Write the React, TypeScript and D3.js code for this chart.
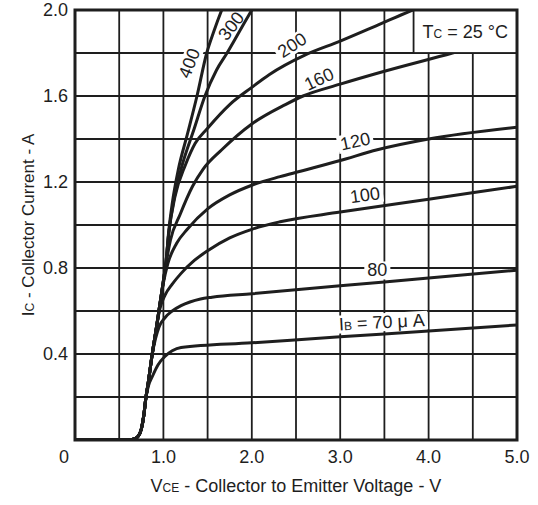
import { useEffect, useRef } from "react"
import * as d3 from "d3"

// axis ticks and grid (V, A)
const vTicks = [0, 1, 2, 3, 4, 5]
const iTicks = [0.4, 0.8, 1.2, 1.6, 2.0]
const vGrid = [0.5, 1, 1.5, 2, 2.5, 3, 3.5, 4, 4.5]
const iGrid = [0.2, 0.4, 0.6, 0.8, 1.0, 1.2, 1.4, 1.6, 1.8]

// Ic vs Vce, one array per base current
const ib70: [number, number][] = [[0, 0], [0.6, 0], [0.66, 0.004], [0.71, 0.015], [0.75, 0.05], [0.78, 0.12], [0.8, 0.19], [0.83, 0.25], [0.88, 0.3], [0.94, 0.35], [1.02, 0.39], [1.1, 0.415], [1.2, 0.43], [2, 0.452], [3, 0.48], [4, 0.507], [5, 0.535]]
const ib80: [number, number][] = [[0, 0], [0.6, 0], [0.66, 0.004], [0.71, 0.015], [0.75, 0.05], [0.78, 0.12], [0.8, 0.19], [0.83, 0.27], [0.87, 0.39], [0.91, 0.47], [0.95, 0.525], [1.02, 0.57], [1.1, 0.6], [1.2, 0.625], [1.3, 0.642], [1.42, 0.656], [1.55, 0.664], [2, 0.68], [3, 0.717], [4, 0.753], [5, 0.79]]
const ib100: [number, number][] = [[0, 0], [0.6, 0], [0.66, 0.004], [0.71, 0.015], [0.75, 0.05], [0.78, 0.12], [0.8, 0.19], [0.83, 0.27], [0.87, 0.39], [0.92, 0.52], [0.96, 0.61], [1.02, 0.675], [1.1, 0.725], [1.2, 0.775], [1.35, 0.835], [1.5, 0.88], [1.75, 0.94], [2, 0.98], [2.32, 1.015], [3, 1.06], [4, 1.12], [5, 1.18]]
const ib120: [number, number][] = [[0, 0], [0.6, 0], [0.66, 0.004], [0.71, 0.015], [0.75, 0.05], [0.78, 0.12], [0.8, 0.19], [0.83, 0.27], [0.87, 0.39], [0.92, 0.52], [0.96, 0.63], [1, 0.73], [1.05, 0.82], [1.15, 0.915], [1.27, 0.98], [1.5, 1.075], [1.75, 1.14], [2, 1.185], [2.32, 1.225], [2.55, 1.25], [3, 1.3], [3.42, 1.35], [4, 1.4], [5, 1.455]]
const ib160: [number, number][] = [[0, 0], [0.6, 0], [0.66, 0.004], [0.71, 0.015], [0.75, 0.05], [0.78, 0.12], [0.8, 0.19], [0.83, 0.27], [0.87, 0.39], [0.92, 0.52], [0.96, 0.63], [1, 0.74], [1.03, 0.82], [1.08, 0.93], [1.19, 1.05], [1.33, 1.18], [1.45, 1.26], [1.66, 1.35], [2, 1.47], [2.38, 1.56], [2.58, 1.6], [3, 1.655], [3.5, 1.715], [4.27, 1.8], [5, 1.886]]
const ib200: [number, number][] = [[0, 0], [0.6, 0], [0.66, 0.004], [0.71, 0.015], [0.75, 0.05], [0.78, 0.12], [0.8, 0.19], [0.83, 0.27], [0.87, 0.39], [0.92, 0.52], [0.96, 0.63], [1, 0.74], [1.03, 0.83], [1.06, 0.96], [1.13, 1.13], [1.25, 1.28], [1.36, 1.38], [1.5, 1.45], [1.75, 1.56], [2, 1.64], [2.2, 1.7], [2.6, 1.79], [3, 1.855], [3.4, 1.925], [3.82, 2], [4, 2.03]]
const ib300: [number, number][] = [[0, 0], [0.6, 0], [0.66, 0.004], [0.71, 0.015], [0.75, 0.05], [0.78, 0.12], [0.8, 0.19], [0.83, 0.27], [0.87, 0.39], [0.92, 0.52], [0.96, 0.63], [1, 0.74], [1.03, 0.83], [1.06, 0.96], [1.12, 1.12], [1.2, 1.26], [1.35, 1.45], [1.47, 1.6], [1.6, 1.72], [1.72, 1.8], [1.86, 1.9], [2, 2], [2.1, 2.07]]
const ib400: [number, number][] = [[0, 0], [0.6, 0], [0.66, 0.004], [0.71, 0.015], [0.75, 0.05], [0.78, 0.12], [0.8, 0.19], [0.83, 0.27], [0.87, 0.39], [0.92, 0.52], [0.96, 0.63], [1, 0.74], [1.03, 0.83], [1.06, 0.97], [1.1, 1.1], [1.17, 1.26], [1.27, 1.42], [1.38, 1.6], [1.49, 1.8], [1.57, 1.9], [1.66, 2], [1.72, 2.06]]

const curveNames = ["70", "80", "100", "120", "160", "200", "300", "400"]

export default function App() {
  const svgRef = useRef<SVGSVGElement>(null)

  useEffect(() => {
    if (!svgRef.current) return
    const svg = d3.select(svgRef.current)
    svg.selectAll("*").remove()

    const W = 538
    const H = 505
    const left = 75, right = 517, top = 10, bottom = 440
    const ink = "#1e1e1e"
    const font = "'Liberation Sans', Arial, Helvetica, sans-serif"

    const x = d3.scaleLinear().domain([0, 5]).range([left, right])
    const y = d3.scaleLinear().domain([0, 2]).range([bottom, top])

    svg.append("rect").attr("width", W).attr("height", H).attr("fill", "#fff")

    svg.append("defs").append("clipPath").attr("id", "plot")
      .append("rect")
      .attr("x", left).attr("y", top)
      .attr("width", right - left).attr("height", bottom - top)

    // grid
    const grid = svg.append("g").attr("stroke", ink).attr("stroke-width", 1.8)
    grid.selectAll(".gv").data(vGrid).enter().append("line")
      .attr("class", "gv")
      .attr("x1", (d) => x(d)).attr("x2", (d) => x(d))
      .attr("y1", top).attr("y2", bottom)
    grid.selectAll(".gh").data(iGrid).enter().append("line")
      .attr("class", "gh")
      .attr("x1", left).attr("x2", right)
      .attr("y1", (d) => y(d)).attr("y2", (d) => y(d))

    const gaps = svg.append("g").attr("fill", "#fff")

    // characteristic curves
    const line = d3.line<[number, number]>()
      .x((d) => x(d[0]))
      .y((d) => y(d[1]))
      .curve(d3.curveMonotoneX)

    const series = [ib70, ib80, ib100, ib120, ib160, ib200, ib300, ib400]
    svg.append("g").attr("clip-path", "url(#plot)")
      .selectAll("path").data(series).enter().append("path")
      .attr("d", (d) => line(d))
      .attr("fill", "none")
      .attr("stroke", ink)
      .attr("stroke-width", 3)
      .attr("stroke-linejoin", "round")
      .attr("data-ib", (_, i) => curveNames[i])

    // Tc box
    svg.append("rect")
      .attr("x", x(3.83)).attr("y", y(2))
      .attr("width", x(5) - x(3.83)).attr("height", y(1.8) - y(2))
      .attr("fill", "#fff").attr("stroke", ink).attr("stroke-width", 1.8)
    const tc = svg.append("text")
      .attr("x", x(4.415)).attr("y", y(1.9))
      .attr("dy", "0.35em")
      .attr("text-anchor", "middle")
      .attr("font-family", font).attr("font-size", 18).attr("fill", ink)
    tc.append("tspan").text("T")
    tc.append("tspan").attr("font-size", 12).text("C")
    tc.append("tspan").text(" = 25 °C")

    // frame
    svg.append("rect")
      .attr("x", left).attr("y", top)
      .attr("width", right - left).attr("height", bottom - top)
      .attr("fill", "none").attr("stroke", ink).attr("stroke-width", 3)

    // curve labels with white gaps behind them
    const labels: { t: string; v: number; i: number; r: number }[] = [
      { t: "400", v: 1.29, i: 1.753, r: -68 },
      { t: "300", v: 1.765, i: 1.926, r: -52 },
      { t: "200", v: 2.455, i: 1.837, r: -33 },
      { t: "160", v: 2.76, i: 1.679, r: -25 },
      { t: "120", v: 3.17, i: 1.39, r: -12 },
      { t: "100", v: 3.28, i: 1.14, r: -8 },
      { t: "80", v: 3.42, i: 0.79, r: 0 },
      { t: "IB", v: 3.47, i: 0.549, r: -3 },
    ]
    const labelLayer = svg.append("g")
    labels.forEach((l) => {
      const tr = `translate(${x(l.v)},${y(l.i)}) rotate(${l.r})`
      const g = labelLayer.append("g").attr("transform", tr)
      const txt = g.append("text")
        .attr("text-anchor", "middle")
        .attr("dy", "0.35em")
        .attr("font-family", font).attr("font-size", 18).attr("fill", ink)
      if (l.t === "IB") {
        txt.append("tspan").text("I")
        txt.append("tspan").attr("font-size", 12).text("B")
        txt.append("tspan").text(" = 70 μ A")
      } else {
        txt.text(l.t)
      }
      const bb = (txt.node() as SVGTextElement).getBBox()
      gaps.append("rect")
        .attr("transform", tr)
        .attr("x", bb.x - 3).attr("y", bb.y + 1)
        .attr("width", bb.width + 6).attr("height", bb.height - 2)
    })

    // tick labels
    svg.append("g").selectAll("text").data(vTicks).enter().append("text")
      .attr("x", (d) => (d === 0 ? x(d) - 11 : x(d)))
      .attr("y", 463)
      .attr("text-anchor", "middle")
      .attr("font-family", font).attr("font-size", 18).attr("fill", ink)
      .text((d) => (d === 0 ? "0" : d3.format(".1f")(d)))

    svg.append("g").selectAll("text").data(iTicks).enter().append("text")
      .attr("x", 68)
      .attr("y", (d) => y(d))
      .attr("dy", "0.35em")
      .attr("text-anchor", "end")
      .attr("font-family", font).attr("font-size", 18).attr("fill", ink)
      .text((d) => d3.format(".1f")(d))

    // axis titles
    const xt = svg.append("text")
      .attr("x", 296).attr("y", 492)
      .attr("text-anchor", "middle")
      .attr("font-family", font).attr("font-size", 18).attr("fill", ink)
    xt.append("tspan").text("V")
    xt.append("tspan").attr("font-size", 12).text("CE")
    xt.append("tspan").text(" - Collector to Emitter Voltage - V")

    const yt = svg.append("text")
      .attr("transform", `translate(34,225) rotate(-90)`)
      .attr("text-anchor", "middle")
      .attr("font-family", font).attr("font-size", 17).attr("fill", ink)
    yt.append("tspan").text("I")
    yt.append("tspan").attr("font-size", 12).text("C")
    yt.append("tspan").text(" - Collector Current - A")
  }, [])

  return (
    <svg
      ref={svgRef}
      width={538}
      height={505}
      style={{ position: "absolute", left: 0, top: 0, display: "block" }}
    />
  )
}
